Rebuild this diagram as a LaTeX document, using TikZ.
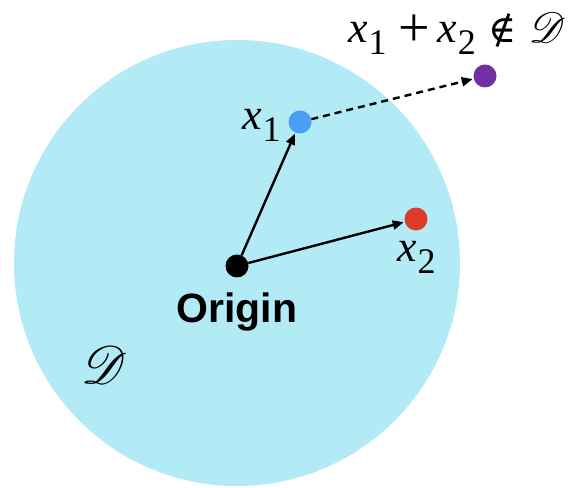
\documentclass[tikz,border=0pt]{standalone}
\usepackage{fontspec}
\usepackage{mathrsfs}
\usepackage{graphicx}
\newfontfamily\serifx{Liberation Serif}
\newfontfamily\symfont{DejaVu Serif}
\newfontfamily\labelsans{Liberation Sans}
\usetikzlibrary{arrows.meta}
\definecolor{domaincol}{HTML}{B2EAF6}
\definecolor{bluept}{HTML}{4A9EF5}
\definecolor{redpt}{HTML}{DA3B2A}
\definecolor{purplept}{HTML}{7030A0}
\newcommand{\xvar}[1]{{\serifx\itshape x}\kern1pt\raisebox{-12pt}{\serifx\fontsize{36}{40}\selectfont #1}}
\newcommand{\wsym}[2]{\resizebox{#1}{!}{$#2$}}
\tikzset{
  pt/.style={circle, inner sep=0pt, minimum size=23pt},
  vec/.style={line width=2.4pt, -{Triangle[length=11pt,width=9pt]}, shorten >=1pt},
  lbl/.style={inner sep=0pt, font=\serifx\fontsize{44}{50}\selectfont}
}
\begin{document}
\begin{tikzpicture}[x=1pt,y=1pt]
\useasboundingbox (0,0) rectangle (575,487);
\fill[domaincol] (237,224) circle[radius=223];
\node[pt, fill=black] (O) at (237,221) {};
\node[pt, fill=bluept] (x1) at (300,365) {};
\node[pt, fill=redpt] (x2) at (416,268) {};
\node[pt, fill=purplept] (s) at (485,411) {};
\draw[vec] (O) -- (x1);
\draw[vec] (O) -- (x2);
\draw[vec, dashed, dash pattern=on 7pt off 5pt] (x1) -- (s);
\node[lbl, anchor=base west] (lx1) at (242,357) {\xvar{1}};
\node[lbl, anchor=base west] (lx2) at (397,225) {\xvar{2}};
\node[lbl, anchor=base west] (lsum) at (348,444) {\xvar{1}\hspace{12pt}\raisebox{-4pt}{\fontsize{56}{60}\selectfont +}\hspace{7pt}\xvar{2}\hspace{13pt}{\symfont\fontsize{38}{44}\selectfont ∉}\hspace{12pt}\wsym{37pt}{\mathscr{D}}};
\node[inner sep=0pt, font=\labelsans\bfseries\fontsize{41}{48}\selectfont] (lo) at (237,175) {Origin};
\node[inner sep=0pt] (ld) at (105,122) {\wsym{46pt}{\mathscr{D}}};
\end{tikzpicture}
\end{document}
